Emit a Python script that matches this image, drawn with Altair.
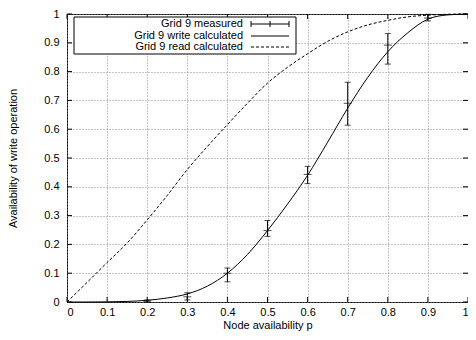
import altair as alt
import pandas as pd

# ---- data ----
p_grid = [0.0, 0.05, 0.1, 0.15, 0.2, 0.25, 0.3, 0.35, 0.4, 0.45, 0.5,
          0.55, 0.6, 0.65, 0.7, 0.75, 0.8, 0.85, 0.9, 0.95, 1.0]
write_calc = [0.0, 0.0, 0.0005, 0.002, 0.006, 0.014, 0.028, 0.055, 0.10, 0.165, 0.248,
              0.34, 0.44, 0.555, 0.673, 0.78, 0.869, 0.935, 0.982, 0.997, 1.0]
read_calc = [0.0, 0.068, 0.137, 0.205, 0.285, 0.37, 0.46, 0.54, 0.616, 0.69, 0.76,
             0.815, 0.862, 0.905, 0.938, 0.962, 0.978, 0.99, 0.996, 0.999, 1.0]

meas_p = [0.2, 0.3, 0.4, 0.5, 0.6, 0.7, 0.8, 0.9]
meas_mean = [0.003, 0.018, 0.100, 0.248, 0.443, 0.690, 0.892, 0.986]
meas_lo = [0.000, 0.007, 0.070, 0.228, 0.411, 0.614, 0.826, 0.976]
meas_hi = [0.007, 0.032, 0.118, 0.283, 0.471, 0.763, 0.932, 0.999]

x_ticks = [0.0, 0.1, 0.2, 0.3, 0.4, 0.5, 0.6, 0.7, 0.8, 0.9, 1.0]
y_ticks = [0.0, 0.1, 0.2, 0.3, 0.4, 0.5, 0.6, 0.7, 0.8, 0.9, 1.0]

legend_labels = ["Grid 9 measured", "Grid 9 write calculated", "Grid 9 read calculated"]
x_title = "Node availability p"
y_title = "Availability of write operation"

W, H = 401, 288
FONT = "Liberation Sans"

curves = pd.DataFrame({"p": p_grid, "write": write_calc, "read": read_calc})
meas = pd.DataFrame({"p": meas_p, "m": meas_mean, "lo": meas_lo, "hi": meas_hi})
xt = pd.DataFrame({"t": x_ticks})
yt = pd.DataFrame({"t": y_ticks})
one = pd.DataFrame({"a": [0]})

xs = alt.Scale(domain=[0, 1], nice=False, zero=False)
ys = alt.Scale(domain=[0, 1], nice=False, zero=False)

x_axis = alt.Axis(values=x_ticks, format="~g", ticks=False, domain=False,
                  grid=True, gridDash=[1, 2], gridColor="#888", gridWidth=1,
                  labelFont=FONT, labelFontSize=11, labelColor="black",
                  labelPadding=4, labelOverlap=False, title=x_title, titleFont=FONT,
                  titleFontSize=11, titleFontWeight="normal", titleColor="black",
                  titlePadding=2)
y_axis = alt.Axis(values=y_ticks, format="~g", ticks=False, domain=False,
                  grid=True, gridDash=[1, 2], gridColor="#888", gridWidth=1,
                  labelFont=FONT, labelFontSize=11, labelColor="black",
                  labelPadding=8, labelOverlap=False, title=y_title, titleFont=FONT,
                  titleFontSize=11, titleFontWeight="normal", titleColor="black",
                  titlePadding=25)


def PX(field):
    return alt.X(field, scale=xs, axis=x_axis)


def PY(field):
    return alt.Y(field, scale=ys, axis=y_axis)


write_line = alt.Chart(curves).mark_line(color="black", strokeWidth=1,
                                         interpolate="monotone").encode(
    x=PX("p:Q"), y=PY("write:Q"))
read_line = alt.Chart(curves).mark_line(color="black", strokeWidth=1, strokeDash=[3, 2],
                                        interpolate="monotone").encode(
    x=PX("p:Q"), y=PY("read:Q"))

err = alt.Chart(meas).mark_rule(color="black", strokeWidth=1).encode(
    x=PX("p:Q"), y=PY("lo:Q"), y2="hi:Q")
cap_lo = alt.Chart(meas).mark_tick(color="black", thickness=1, size=6, orient="horizontal").encode(
    x=PX("p:Q"), y=PY("lo:Q"))
cap_hi = alt.Chart(meas).mark_tick(color="black", thickness=1, size=6, orient="horizontal").encode(
    x=PX("p:Q"), y=PY("hi:Q"))
cap_m = alt.Chart(meas).mark_tick(color="black", thickness=1, size=8, orient="horizontal").encode(
    x=PX("p:Q"), y=PY("m:Q"))

# inward ticks (gnuplot style), mirrored on all four sides
tk = dict(color="black", strokeWidth=1)
tb = alt.Chart(xt).mark_rule(**tk).encode(x=PX("t:Q"), y=alt.value(H), y2=alt.value(H - 5))
tt = alt.Chart(xt).mark_rule(**tk).encode(x=PX("t:Q"), y=alt.value(0), y2=alt.value(5))
tl = alt.Chart(yt).mark_rule(**tk).encode(y=PY("t:Q"), x=alt.value(0), x2=alt.value(5))
tr = alt.Chart(yt).mark_rule(**tk).encode(y=PY("t:Q"), x=alt.value(W), x2=alt.value(W - 5))

# legend box (gnuplot style key)
box = alt.Chart(one).mark_rect(fill="white", stroke="black", strokeWidth=1).encode(
    x=alt.value(7), x2=alt.value(229), y=alt.value(3), y2=alt.value(40))
leg_y = [10, 22, 33]
leg_text = [alt.Chart(one).mark_text(align="right", baseline="middle", font=FONT,
                                     fontSize=11, color="black").encode(
    x=alt.value(176), y=alt.value(yy), text=alt.value(lab))
    for lab, yy in zip(legend_labels, leg_y)]
s1 = alt.Chart(one).mark_rule(color="black", strokeWidth=1).encode(
    x=alt.value(184), x2=alt.value(222), y=alt.value(leg_y[0]))
s1a = alt.Chart(one).mark_rule(color="black", strokeWidth=1).encode(
    x=alt.value(184), y=alt.value(leg_y[0] - 3), y2=alt.value(leg_y[0] + 3))
s1b = alt.Chart(one).mark_rule(color="black", strokeWidth=1).encode(
    x=alt.value(203), y=alt.value(leg_y[0] - 3), y2=alt.value(leg_y[0] + 3))
s1c = alt.Chart(one).mark_rule(color="black", strokeWidth=1).encode(
    x=alt.value(222), y=alt.value(leg_y[0] - 3), y2=alt.value(leg_y[0] + 3))
s2 = alt.Chart(one).mark_rule(color="black", strokeWidth=1).encode(
    x=alt.value(184), x2=alt.value(222), y=alt.value(leg_y[1]))
s3 = alt.Chart(one).mark_rule(color="black", strokeWidth=1, strokeDash=[3, 2]).encode(
    x=alt.value(184), x2=alt.value(222), y=alt.value(leg_y[2]))

chart = alt.layer(
    write_line, read_line, err, cap_lo, cap_hi, cap_m,
    tb, tt, tl, tr,
    box, *leg_text, s1, s1a, s1b, s1c, s2, s3
).properties(
    width=W, height=H,
    autosize=alt.AutoSizeParams(type="none"),
    padding={"left": 59, "top": 6, "right": 0, "bottom": 30},
    background="white",
).configure_view(stroke="black", strokeWidth=1)

chart.save("out.html", embed_options={"renderer": "svg", "actions": False})
